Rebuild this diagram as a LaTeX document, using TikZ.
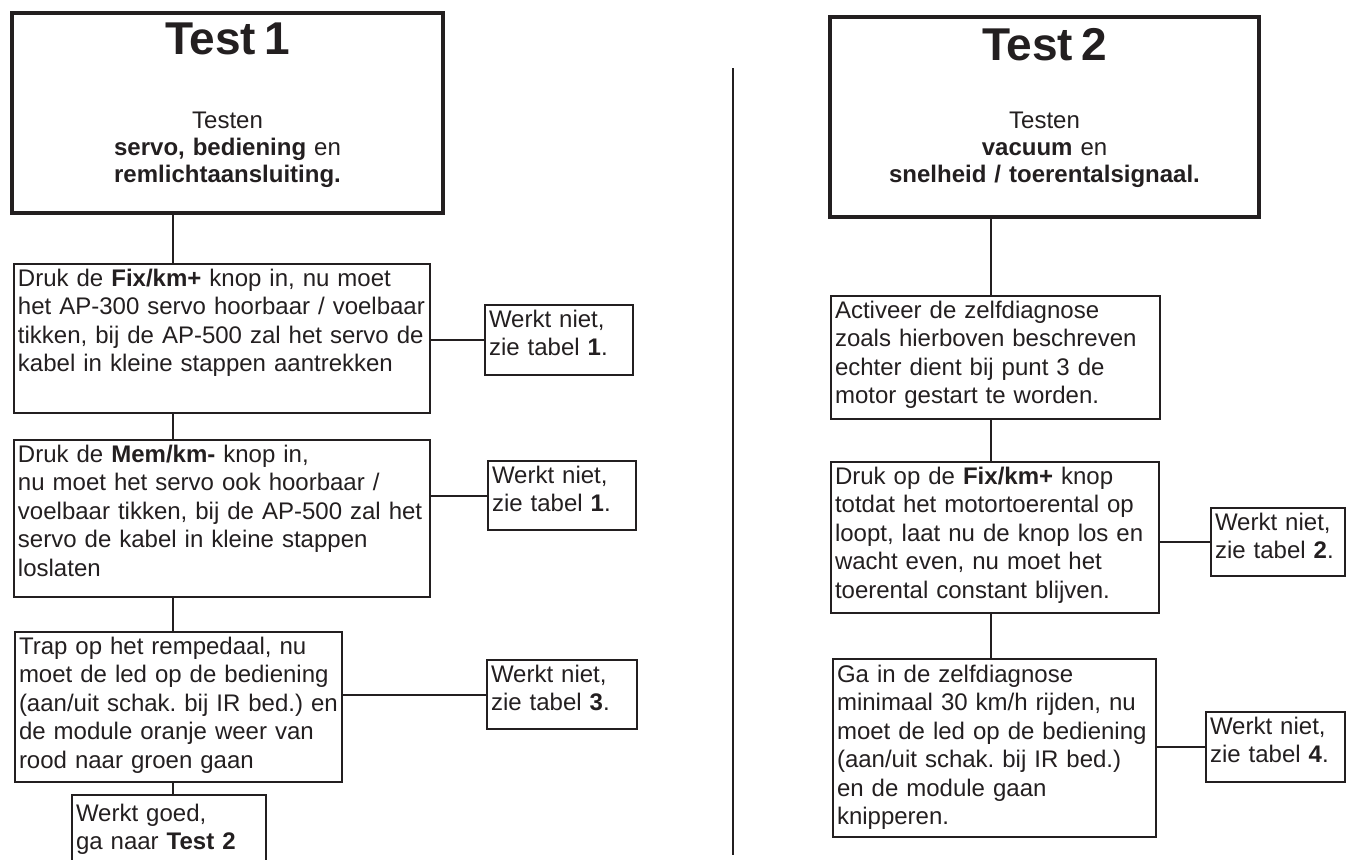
\documentclass[tikz,border=0pt]{standalone}
\usepackage{fontspec}
\setmainfont{Liberation Sans}
\usetikzlibrary{positioning}
\definecolor{inkt}{HTML}{231F20}
\newcommand\testkop[1]{{\fontsize{23}{23}\selectfont\bfseries #1}}
\frenchspacing

\begin{document}
\begin{tikzpicture}[x=0.5pt,y=-0.5pt,
  every node/.style={text=inkt, outer sep=0pt},
  stap/.style={draw=inkt, line width=1pt, anchor=north west, align=left,
    inner xsep=2pt, inner ysep=0pt, text height=11pt,
    font=\fontsize{12}{14.25}\selectfont},
  kop/.style={stap, line width=1.6pt, align=center, font=\fontsize{12}{13.5}\selectfont},
  lijn/.style={draw=inkt, line width=1pt}]
\useasboundingbox (0,0) rectangle (1348,859);
\clip (0,0) rectangle (1348,859);

% Test 1
\node[kop, text width=211.5pt, text height=20.5pt, text depth=79.5pt] (t1) at (12,13)
  {\testkop{Test 1}\\[23.5pt] Testen\\ \textbf{servo, bediening} en\\ \textbf{remlichtaansluiting.}};
\node[stap, text width=204pt, text depth=63.5pt] (b1) at (14,264)
  {Druk de \textbf{Fix/km+} knop in, nu moet\\ het AP-300 servo hoorbaar / voelbaar\\
   tikken, bij de AP-500 zal het servo de\\ kabel in kleine stappen aantrekken};
\node[stap, text width=204pt, text depth=67.5pt] (b2) at (14,440)
  {Druk de \textbf{Mem/km-} knop in,\\ nu moet het servo ook hoorbaar /\\
   voelbaar tikken, bij de AP-500 zal het\\ servo de kabel in kleine stappen\\ loslaten};
\node[stap, text width=159.5pt, text depth=64pt] (b3) at (15,632)
  {Trap op het rempedaal, nu\\ moet de led op de bediening\\ (aan/uit schak. bij IR bed.) en\\
   de module oranje weer van\\ rood naar groen gaan};
\node[stap, text width=93pt, text height=13pt, text depth=40pt] (b4) at (72,795)
  {Werkt goed,\\ ga naar \textbf{Test 2}};
\node[stap, text width=70pt, text depth=24pt] (n1) at (485,305) {Werkt niet,\\ zie tabel \textbf{1}.};
\node[stap, text width=70pt, text depth=23.5pt] (n2) at (488,461) {Werkt niet,\\ zie tabel \textbf{1}.};
\node[stap, text width=71pt, text depth=23.5pt] (n3) at (487,660) {Werkt niet,\\ zie tabel \textbf{3}.};

% Test 2
\node[kop, text width=210.5pt, text height=21.5pt, text depth=78.5pt] (t2) at (830,17)
  {\testkop{Test 2}\\[20.5pt] Testen\\ \textbf{vacuum} en\\ \textbf{snelheid / toerentalsignaal.}};
\node[stap, text width=160.5pt, text depth=50.5pt] (c1) at (831,296)
  {Activeer de zelfdiagnose\\ zoals hierboven beschreven\\ echter dient bij punt 3 de\\ motor gestart te worden.};
\node[stap, text width=160pt, text depth=64.5pt] (c2) at (831,462)
  {Druk op de \textbf{Fix/km+} knop\\ totdat het motortoerental op\\ loopt, laat nu de knop los en\\
   wacht even, nu moet het\\ toerental constant blijven.};
\node[stap, text width=157.5pt, text height=11.5pt, text depth=77.5pt] (c3) at (833,659)
  {Ga in de zelfdiagnose\\ minimaal 30 km/h rijden, nu\\ moet de led op de bediening\\
   (aan/uit schak. bij IR bed.)\\ en de module gaan\\ knipperen.};
\node[stap, text width=63pt, text depth=23pt] (m2) at (1211,508) {Werkt niet,\\ zie tabel \textbf{2}.};
\node[stap, text width=65.5pt, text depth=24pt] (m4) at (1206,712) {Werkt niet,\\ zie tabel \textbf{4}.};

% verbindingen
\coordinate (ls) at (173,0);
\coordinate (rs) at (991,0);
\draw[lijn] (t1.south -| ls) -- (b1.north -| ls);
\draw[lijn] (b1.south -| ls) -- (b2.north -| ls);
\draw[lijn] (b2.south -| ls) -- (b3.north -| ls);
\draw[lijn] (b3.south -| ls) -- (b4.north -| ls);
\draw[lijn] (b1.east |- n1.west) -- (n1.west);
\draw[lijn] (b2.east |- n2.west) -- (n2.west);
\draw[lijn] (b3.east |- n3.west) -- (n3.west);
\draw[lijn] (t2.south -| rs) -- (c1.north -| rs);
\draw[lijn] (c1.south -| rs) -- (c2.north -| rs);
\draw[lijn] (c2.south -| rs) -- (c3.north -| rs);
\draw[lijn] (c2.east |- m2.west) -- (m2.west);
\draw[lijn] (c3.east |- m4.west) -- (m4.west);

% scheidingslijn
\coordinate (sb) at (733,68);
\coordinate (so) at (733,855);
\draw[lijn] (sb) -- (so);
\end{tikzpicture}
\end{document}
